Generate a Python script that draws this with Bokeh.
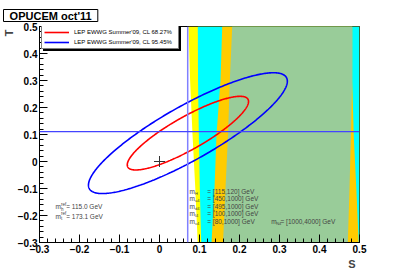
import numpy as np
from bokeh.plotting import figure
from bokeh.models import (Range1d, FixedTicker, Span, Label, Legend, LegendItem, Title)
from bokeh.embed import file_html
from bokeh.resources import INLINE

# ---------------- data ----------------
# allowed regions in the (S,T) plane: S boundaries read at these T levels
T_levels     = [0.5, 0.3, 0.1, -0.1, -0.3]
yellow_left  = [0.0725, 0.0765, 0.0825, 0.0895, 0.0955]
yellow_right = [0.5, 0.5, 0.5, 0.5, 0.5]
cyan_left    = [0.0958, 0.0963, 0.0983, 0.1008, 0.1043]
cyan_right   = [0.5, 0.5, 0.5, 0.5, 0.5]
orange_left  = [0.1568, 0.1525, 0.1425, 0.1375, 0.1300]
orange_right = [0.4818, 0.4818, 0.4855, 0.4920, 0.4980]
green_left   = [0.1818, 0.1758, 0.1713, 0.1650, 0.1588]
green_right  = [0.4818, 0.4815, 0.4788, 0.4750, 0.4708]

# LEP EWWG Summer'09 fit (central values, errors, correlation)
center_S = 0.071
center_T = 0.105
sigma_S = 0.100
sigma_T = 0.090
rho_ST = 0.86
cl_labels = ["LEP EWWG Summer'09, CL 68.27%", "LEP EWWG Summer'09, CL 95.45%"]
cl_chi2 = [2.2977, 6.1801]

ref_S = 0.0705
ref_T = 0.111
sm_S = [0.0]
sm_T = [0.0]

ref_mass_names = ["h", "t"]
ref_mass_values = ["115.0", "173.1"]

range_names = ["H", "u4", "d4", "l4", "ν4"]
range_low = [115, 450, 495, 100, 80]
range_high = [120, 1000, 1000, 1000, 1000]
extra_name = "N4"
extra_low = 1000
extra_high = 4000

major_ticks = [-0.3, -0.2, -0.1, 0.0, 0.1, 0.2, 0.3, 0.4, 0.5]
minor_step = 0.02
title_text = "OPUCEM oct'11"
x_title = "S"
y_title = "T"

# ---------------- styling ----------------
FONT = "Liberation Sans"
band_colors = ["#ffff00", "#00ffff", "#ffcc00", "#99cc99"]
NBSP = "\u00a0"

p = figure(width=399, height=270,
           x_range=Range1d(-0.3, 0.5), y_range=Range1d(-0.3, 0.5),
           output_backend="svg", toolbar_location=None,
           min_border_left=39, min_border_right=40,
           min_border_top=26, min_border_bottom=28)
p.grid.visible = False
p.outline_line_color = "black"
p.outline_line_width = 1
p.background_fill_color = "white"
p.border_fill_color = "white"

# boxed title in the top-left corner
p.title.text = NBSP * 2 + title_text + NBSP * 2
p.title.align = "left"
p.title.offset = -36
p.title.standoff = 10
p.title.text_font = FONT
p.title.text_font_size = "11px"
p.title.text_font_style = "bold"
p.title.text_color = "black"
p.title.background_fill_color = "white"
p.title.border_line_color = "black"
p.title.border_line_width = 1
p.title.padding = 0

minor_ticks = [round(v, 2) for v in np.arange(-0.3, 0.5 + 1e-9, minor_step)]

for ax in (p.xaxis[0], p.yaxis[0]):
    ax.ticker = FixedTicker(ticks=major_ticks, minor_ticks=minor_ticks)
    ax.major_tick_in = 8
    ax.major_tick_out = 0
    ax.minor_tick_in = 4
    ax.minor_tick_out = 0
    ax.axis_line_color = "black"
    ax.major_tick_line_color = "black"
    ax.minor_tick_line_color = "black"
    ax.major_label_text_font = FONT
    ax.major_label_text_font_style = "bold"
    ax.major_label_text_font_size = "10px"
    ax.major_label_text_color = "black"
    ax.major_label_standoff = 2
    ax.major_label_overrides = {0: "0", 0.0: "0"}

# axis titles at the far ends of the axes
p.add_layout(Title(text=x_title, align="right", offset=4, standoff=0,
                   text_font=FONT, text_font_size="11px", text_font_style="bold"), "below")
p.add_layout(Title(text=y_title, align="right", offset=3, standoff=0,
                   text_font=FONT, text_font_size="11px", text_font_style="bold"), "left")

bands = [(yellow_left, yellow_right), (cyan_left, cyan_right),
         (orange_left, orange_right), (green_left, green_right)]
for (left, right), col in zip(bands, band_colors):
    xs = list(left) + list(right)[::-1]
    ys = list(T_levels) + list(T_levels)[::-1]
    p.patch(xs, ys, fill_color=col, line_color=None)

p.add_layout(Span(location=ref_S, dimension="height", line_color="#8080ff", line_width=1.5))
p.add_layout(Span(location=ref_T, dimension="width", line_color="#4444ff", line_width=1.2))

def contour(chi2):
    k = np.sqrt(chi2)
    th = np.linspace(0, 2 * np.pi, 361)
    s = center_S + k * sigma_S * np.cos(th)
    t = center_T + k * sigma_T * (rho_ST * np.cos(th) + np.sqrt(1 - rho_ST ** 2) * np.sin(th))
    return s, t

line_colors = ["#ff0000", "#0000ff"]
rends = []
for chi2, col in zip(cl_chi2, line_colors):
    s, t = contour(chi2)
    rends.append(p.line(s, t, line_color=col, line_width=1.6))

p.scatter(sm_S, sm_T, marker="cross", size=11, line_color="#333333", line_width=1)

# an empty, invisible renderer used by the shadow box
dummy = p.line([], [], line_alpha=0)

def box_legend(labels, renderers, loc, shadow, **kw):
    items = [LegendItem(label=l, renderers=[r]) for l, r in zip(labels, renderers)]
    return Legend(items=items, location=loc, orientation="vertical", margin=0,
                  border_line_color="black", border_line_width=1,
                  background_fill_color="black" if shadow else "white",
                  background_fill_alpha=1.0, label_text_color="black",
                  label_text_font=FONT, **kw)

leg_kw = dict(padding=2, spacing=2, glyph_width=25, glyph_height=8, label_height=8,
              label_width=102, label_standoff=5, label_text_font_size="6px")
p.add_layout(box_legend([" ", " "], [dummy, dummy], (4, 191), True, **leg_kw), "center")
p.add_layout(box_legend(cl_labels, rends, (2, 193), False, **leg_kw), "center")

def lab(x, y, text, size="6.5px", xo=0, yo=0):
    p.add_layout(Label(x=x, y=y, text=text, x_offset=xo, y_offset=yo,
                       text_font=FONT, text_font_size=size,
                       text_align="left", text_baseline="middle"))

# reference masses
ref_rows_T = [-0.1667, -0.2026]
for name, val, ty in zip(ref_mass_names, ref_mass_values, ref_rows_T):
    lab(-0.26, ty, "m")
    lab(-0.26, ty, "ref", size="4.5px", xo=5.5, yo=2.5)
    lab(-0.26, ty, name, size="4.5px", xo=5.5, yo=-2.5)
    lab(-0.2333, ty, "= %s GeV" % val)

# mass ranges
row0_T = -0.111
row_step = 0.0275
for i, (name, lo, hi) in enumerate(zip(range_names, range_low, range_high)):
    ty = row0_T - i * row_step
    lab(0.075, ty, "m")
    lab(0.075, ty, name, size="4px", xo=5.5, yo=-2)
    lab(0.1193, ty, "= [%d,%d] GeV" % (lo, hi))

ty = row0_T - 4 * row_step
lab(0.2793, ty, "m")
lab(0.2793, ty, extra_name, size="4px", xo=5, yo=-2)
lab(0.3025, ty, "= [%d,%d] GeV" % (extra_low, extra_high))

open("out.html", "w").write(file_html(p, INLINE))
